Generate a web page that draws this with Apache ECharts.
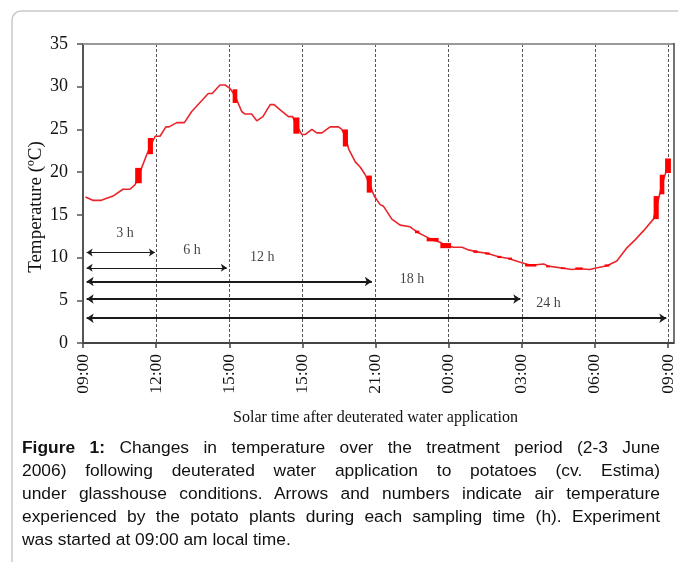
<!DOCTYPE html>
<html>
<head>
<meta charset="utf-8">
<script src="https://cdn.jsdelivr.net/npm/echarts@6/dist/echarts.min.js"></script>
<style>
  html, body { margin: 0; padding: 0; background: #fff; }
  #wrap { position: relative; width: 678px; height: 562px; overflow: hidden; }
  #chart { position: absolute; left: 0; top: 0; width: 678px; height: 562px; }
  #caption { position: absolute; left: 22px; top: 436px; width: 638px;
    font-family: "Liberation Sans", Arial, sans-serif; font-size: 17.4px; line-height: 23px; color: #111; }
  #caption div { white-space: nowrap; text-align: justify; text-align-last: justify; }
  #caption div.last { text-align: left; text-align-last: left; }
</style>
</head>
<body>
<div id="wrap">
  <div id="chart"></div>
  <div id="caption">
    <div><b>Figure 1:</b> Changes in temperature over the treatment period (2-3 June</div>
    <div>2006) following deuterated water application to potatoes (cv. Estima)</div>
    <div>under glasshouse conditions. Arrows and numbers indicate air temperature</div>
    <div>experienced by the potato plants during each sampling time (h). Experiment</div>
    <div class="last">was started at 09:00 am local time.</div>
  </div>
</div>
<script>
// ---- data ----
const tickLabels = ["09:00", "12:00", "15:00", "15:00", "21:00", "00:00", "03:00", "06:00", "09:00"];
const lineHours = [0.1, 0.4, 0.75, 1.23, 1.64, 1.93, 2.13, 2.27, 2.61, 2.76, 2.96, 3.16, 3.4, 3.53, 3.85, 4.16, 4.46, 5.14, 5.3, 5.62, 5.83, 6.03, 6.23, 6.51, 6.65, 6.92, 7.13, 7.38, 7.68, 7.84, 8.09, 8.43, 8.6, 8.75, 8.98, 9.11, 9.39, 9.59, 9.8, 10.14, 10.48, 10.62, 10.78, 10.9, 11.17, 11.37, 11.58, 11.75, 11.95, 12.19, 12.33, 12.67, 13.01, 13.42, 13.7, 13.97, 14.3, 14.65, 14.9, 15.2, 15.55, 15.82, 16.09, 16.57, 17.05, 17.46, 17.87, 18.0, 18.37, 18.9, 19.1, 19.7, 20.06, 20.35, 20.8, 21.0, 21.5, 21.9, 22.3, 22.66, 23.0, 23.4, 23.52, 23.75, 24.0];
const lineTemps = [17.1, 16.7, 16.7, 17.2, 18.0, 18.0, 18.5, 19.5, 22.0, 23.0, 24.2, 24.2, 25.3, 25.3, 25.8, 25.8, 27.1, 29.2, 29.2, 30.2, 30.2, 29.8, 29.0, 27.1, 26.8, 26.8, 26.0, 26.5, 27.9, 27.9, 27.3, 26.5, 26.5, 25.5, 24.4, 24.4, 25.0, 24.6, 24.6, 25.3, 25.3, 25.0, 24.0, 22.7, 21.2, 20.6, 19.7, 18.6, 17.2, 16.2, 16.0, 14.5, 13.8, 13.6, 13.0, 12.6, 12.1, 11.8, 11.4, 11.2, 11.2, 10.9, 10.7, 10.5, 10.1, 9.9, 9.5, 9.4, 9.1, 9.25, 9.0, 8.75, 8.6, 8.7, 8.6, 8.75, 9.05, 9.6, 11.1, 12.1, 13.15, 14.5, 15.8, 18.5, 20.8];
// sampling markers: start hour, end hour, low temp, high temp
const markStart = [2.14, 2.66, 6.14, 8.63, 10.66, 11.64, 14.10, 14.66, 18.14, 20.20, 21.40, 23.41, 23.66, 23.88, 13.62, 16.02, 16.50, 17.00, 17.45, 19.00, 19.60];
const markEnd   = [2.41, 2.87, 6.33, 8.88, 10.87, 11.85, 14.59, 15.10, 18.60, 20.50, 21.60, 23.62, 23.85, 24.12, 13.80, 16.18, 16.68, 17.16, 17.60, 19.15, 19.78];
const markLow   = [18.7, 22.1, 28.1, 24.5, 23.0, 17.6, 11.9, 11.1, 8.95, 8.6, 8.95, 14.5, 17.4, 19.9, 12.85, 10.55, 10.35, 9.95, 9.75, 8.85, 8.65];
const markHigh  = [20.5, 24.0, 29.7, 26.4, 25.0, 19.6, 12.3, 11.7, 9.25, 8.85, 9.2, 17.2, 19.7, 21.6, 13.15, 10.85, 10.6, 10.2, 10.0, 9.05, 8.85];
// arrows: end hour, level (temp units), label
const arrowEnd   = [2.95, 5.9, 11.85, 17.94, 23.93];
const arrowLevel = [10.6, 8.8, 7.2, 5.15, 2.9];
const arrowBold  = [false, false, true, true, true];
const arrowText  = ["3 h", "6 h", "12 h", "18 h", "24 h"];
const labelHour  = [1.72, 4.47, 7.35, 13.5, 19.1];
const labelTemp  = [12.8, 10.8, 10.0, 7.4, 4.65];

const serif = '"Liberation Serif", "Times New Roman", serif';
const chart = echarts.init(document.getElementById('chart'));

const lineData = lineHours.map((h, i) => [h, lineTemps[i]]);
const markData = markStart.map((s, i) => [s, markEnd[i], markLow[i], markHigh[i]]);
const arrowSeries = arrowEnd.map((e, i) => ({
  type: 'lines', coordinateSystem: 'cartesian2d', silent: true, z: 3,
  symbol: ['arrow', 'arrow'], symbolSize: arrowBold[i] ? 7 : 6,
  lineStyle: { color: '#1a1a1a', width: arrowBold[i] ? 2 : 1, opacity: 1 },
  data: [{ coords: [[0.15, arrowLevel[i]], [e, arrowLevel[i]]] }]
}));

chart.setOption({
  animation: false,
  textStyle: { fontFamily: serif },
  grid: { left: 83, top: 44, right: 10, bottom: 219, containLabel: false },
  xAxis: {
    type: 'value', min: 0, max: 24, interval: 3,
    name: 'Solar time after deuterated water application',
    nameLocation: 'middle', nameGap: 67,
    nameTextStyle: { fontFamily: serif, fontSize: 16, color: '#111' },
    axisLine: { show: true, lineStyle: { color: '#444', width: 2 } },
    axisTick: { show: true, length: 5, lineStyle: { color: '#444', width: 1.5 } },
    axisLabel: { rotate: 90, margin: 11, fontFamily: serif, fontSize: 17.5, color: '#111',
      formatter: v => tickLabels[Math.round(v / 3)] },
    splitLine: { show: true, lineStyle: { color: '#555', width: 1, type: [3, 2] } }
  },
  yAxis: {
    type: 'value', min: 0, max: 35, interval: 5,
    axisLine: { show: true, lineStyle: { color: '#555', width: 2 } },
    axisTick: { show: true, length: 6, lineStyle: { color: '#555', width: 1.5 } },
    axisLabel: { margin: 15, fontFamily: serif, fontSize: 18, color: '#111' },
    splitLine: { show: false }
  },
  graphic: [
    { type: 'rect', shape: { x: 12, y: 11, width: 720, height: 620, r: 9 },
      style: { fill: 'none', stroke: '#c9c9c9', lineWidth: 1.5 }, z: 0 },
    { type: 'line', shape: { x1: 83, y1: 44, x2: 674, y2: 44 },
      style: { stroke: '#999', lineWidth: 2 }, z: 5 },
    { type: 'line', shape: { x1: 674, y1: 43, x2: 674, y2: 344 },
      style: { stroke: '#444', lineWidth: 1.5 }, z: 5 },
    { type: 'line', shape: { x1: 668, y1: 343, x2: 674, y2: 343 },
      style: { stroke: '#444', lineWidth: 2 }, z: 5 },
    { type: 'text', x: 36, y: 207, rotation: Math.PI / 2,
      style: { text: 'Temperature (ºC)', fontFamily: serif, fontSize: 19, fill: '#111',
        align: 'center', verticalAlign: 'middle' }, z: 5 }
  ],
  series: [
    {
      type: 'line', data: lineData, showSymbol: false, smooth: false, z: 4,
      lineStyle: { color: '#e8262b', width: 1.6 }
    },
    {
      type: 'custom', z: 6, data: markData,
      renderItem: (params, api) => {
        const p1 = api.coord([api.value(0), api.value(3)]);
        const p2 = api.coord([api.value(1), api.value(2)]);
        return { type: 'rect', shape: { x: p1[0], y: p1[1], width: p2[0] - p1[0], height: p2[1] - p1[1] },
          style: { fill: '#ff0000' } };
      }
    },
    ...arrowSeries,
    {
      type: 'scatter', symbolSize: 0, silent: true, z: 7,
      data: labelHour.map((h, i) => ({ value: [h, labelTemp[i]], name: arrowText[i] })),
      label: { show: true, position: 'inside', formatter: p => p.name,
        fontFamily: serif, fontSize: 14, color: '#111' }
    }
  ]
});
</script>
</body>
</html>
